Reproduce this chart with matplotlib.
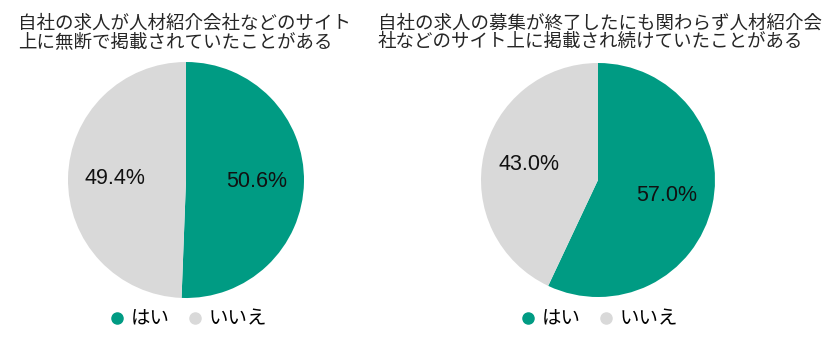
import matplotlib
matplotlib.use("Agg")
import matplotlib.pyplot as plt
from matplotlib.lines import Line2D

plt.rcParams['font.family'] = ['Liberation Sans', 'Noto Sans CJK JP']

categories = ["はい", "いいえ"]
colors = ["#009B83", "#D9D9D9"]

title_left = ["自社の求人が人材紹介会社などのサイト",
              "上に無断で掲載されていたことがある"]
values_left = [50.6, 49.4]

title_right = ["自社の求人の募集が終了したにも関わらず人材紹介会",
               "社などのサイト上に掲載され続けていたことがある"]
values_right = [57.0, 43.0]

W, H = 840, 346
fig = plt.figure(figsize=(W / 100, H / 100), dpi=100)


def px_axes(cx, cy, r):
    return fig.add_axes([(cx - r) / W, (H - cy - r) / H, 2 * r / W, 2 * r / H])


def draw_pie(cx, cy, r, values, title_lines, tx, legend_x):
    ax = px_axes(cx, cy, r)
    ax.pie(values, colors=colors, startangle=90, counterclock=False,
           autopct=lambda p: f"{p:.1f}%", pctdistance=0.6,
           wedgeprops=dict(linewidth=0),
           textprops=dict(fontsize=15.5, color="#111111"))
    ax.set_xlim(-1, 1)
    ax.set_ylim(-1, 1)
    ax.set_aspect("equal")
    for i, line in enumerate(title_lines):
        fig.text(tx / W, 1 - (24 + 18.5 * i) / H, line, ha="left",
                 va="center", fontsize=13.3, color="#262626")
    handles = [Line2D([], [], marker="o", linestyle="", markersize=8,
                      markerfacecolor=c, markeredgecolor=c) for c in colors]
    fig.legend(handles, categories, loc="center", ncol=2,
               bbox_to_anchor=(legend_x / W, 1 - 320 / H), frameon=False,
               fontsize=14, handletextpad=0.2, columnspacing=0.8,
               handlelength=1.0)


draw_pie(186, 180, 118, values_left, title_left, 18, 187)
draw_pie(598, 180, 117, values_right, title_right, 378, 598)

fig.savefig("out.png", dpi=100, facecolor="white")
